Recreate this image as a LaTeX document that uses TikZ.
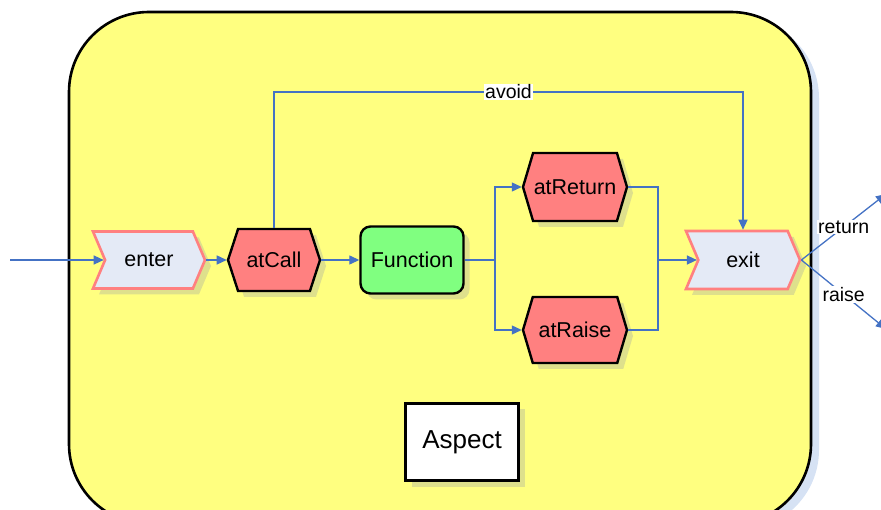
\documentclass[tikz,border=0pt]{standalone}
\usepackage{fontspec}
\setmainfont{Liberation Sans}
\usetikzlibrary{arrows.meta,shapes.symbols,shadows}
\definecolor{frameyellow}{RGB}{255,255,128}
\definecolor{frameshade}{RGB}{214,226,244}
\definecolor{nodeshade}{RGB}{222,224,140}
\definecolor{advred}{RGB}{255,128,128}
\definecolor{funcgreen}{RGB}{128,255,128}
\definecolor{portfill}{RGB}{228,234,246}
\definecolor{portedge}{RGB}{255,128,128}
\definecolor{wire}{RGB}{68,114,196}
\tikzset{
  txt/.style={font=\fontsize{21.5}{24}\selectfont},
  shade/.style={drop shadow={shadow xshift=6pt,shadow yshift=-6pt,fill=nodeshade,opacity=1}},
  port/.style={shape=signal, signal from=west, signal to=east, signal pointer angle=134,
    draw=portedge, line width=2.6pt, fill=portfill, inner sep=0pt, txt, shade},
  advice/.style={shape=signal, signal to=east and west, signal pointer angle=144,
    draw=black, line width=2.4pt, fill=advred, inner sep=0pt, txt, shade},
  body/.style={draw=black, line width=2.4pt, fill=funcgreen, rounded corners=10pt,
    inner sep=0pt, txt, shade},
  tag/.style={draw=black, line width=2.4pt, fill=white, inner sep=0pt,
    font=\fontsize{26}{30}\selectfont, shade},
  conn/.style={draw=wire, line width=1.3pt},
  arr/.style={conn, -{Triangle[length=10pt,width=9pt]}},
  lbl/.style={fill=white, inner sep=1pt, font=\fontsize{19.5}{22}\selectfont},
}
\begin{document}
\begin{tikzpicture}[x=1pt,y=-1pt]
\useasboundingbox (0,0) rectangle (881,510);
% outer aspect frame with its pale shadow
\fill[frameshade, rounded corners=80pt] (76,18) rectangle (819,530);
\draw[fill=frameyellow, line width=2.6pt, rounded corners=80pt] (69,12) rectangle (811,524);

% nodes
\node[port, minimum width=112pt, minimum height=57pt] (enter) at (149,260) {enter};
\node[advice, minimum width=92pt, minimum height=62pt] (atCall) at (274,260) {atCall};
\node[body, minimum width=103pt, minimum height=67pt] (Function) at (412,260) {Function};
\node[advice, signal pointer angle=147, minimum width=104pt, minimum height=68pt] (atReturn) at (575,187) {atReturn};
\node[advice, signal pointer angle=147, minimum width=104pt, minimum height=66pt] (atRaise) at (575,330) {atRaise};
\node[port, minimum width=114pt, minimum height=58pt] (exit) at (743,260) {exit};
\node[tag, minimum width=113pt, minimum height=77pt] (Aspect) at (462,442) {Aspect};

% helper points
\coordinate (src) at (10,260);
\coordinate (top) at (0,92);
\coordinate (fork) at (495,260);
\coordinate (join) at (658,260);
\coordinate (retEnd) at (886,194);
\coordinate (raiseEnd) at (886,329);

% connectors
\draw[arr] (src) -- (enter.west);
\draw[arr] (enter.east) -- (atCall.west);
\draw[arr] (atCall.east) -- (Function.west);
\draw[conn] (Function.east) -- (fork);
\draw[arr] (fork) |- (atReturn.west);
\draw[arr] (fork) |- (atRaise.west);
\draw[conn] (atReturn.east) -| (join);
\draw[conn] (atRaise.east) -| (join);
\draw[arr] (join) -- (exit.west);
\draw[arr] (atCall.north) -- (atCall.north |- top) -- (exit.north |- top)
  node[lbl, midway] {avoid} -- (exit.north);
\draw[arr] (exit.east) -- (retEnd) node[lbl, pos=0.5] {return};
\draw[arr] (exit.east) -- (raiseEnd) node[lbl, pos=0.5] {raise};
\end{tikzpicture}
\end{document}
